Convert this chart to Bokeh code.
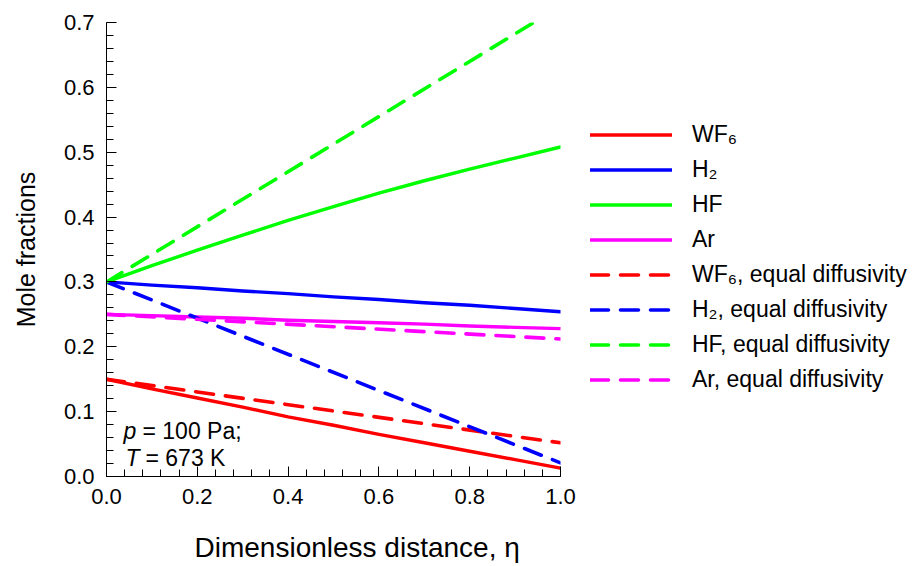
from bokeh.plotting import figure
from bokeh.models import (Range1d, FixedTicker, PrintfTickFormatter, Legend, LegendItem,
                          Label, Title)
from bokeh.embed import file_html
from bokeh.resources import INLINE

# ---- data ----
eta = [0.0, 0.1, 0.2, 0.3, 0.4, 0.5, 0.6, 0.7, 0.8, 0.9, 1.0]
wf6 = [0.150, 0.135, 0.121, 0.107, 0.092, 0.079, 0.065, 0.052, 0.039, 0.026, 0.013]
h2 = [0.300, 0.295, 0.291, 0.286, 0.282, 0.277, 0.273, 0.268, 0.264, 0.259, 0.254]
hf = [0.300, 0.325, 0.349, 0.372, 0.395, 0.416, 0.437, 0.456, 0.474, 0.491, 0.508]
ar = [0.250, 0.248, 0.246, 0.244, 0.241, 0.239, 0.237, 0.235, 0.232, 0.230, 0.228]

eta_eq = [0.0, 1.0]
wf6_eq = [0.150, 0.052]
h2_eq = [0.300, 0.021]
hf_eq = [0.300, 0.725]
ar_eq = [0.250, 0.212]

x_ticks = [0.0, 0.2, 0.4, 0.6, 0.8, 1.0]
x_minor = [round(i * 0.04, 2) for i in range(26)]
y_ticks = [0.0, 0.1, 0.2, 0.3, 0.4, 0.5, 0.6, 0.7]
y_minor = [round(i * 0.02, 2) for i in range(36)]

legend_labels = ["WF₆", "H₂", "HF", "Ar",
                 "WF₆, equal diffusivity", "H₂, equal diffusivity",
                 "HF, equal diffusivity", "Ar, equal diffusivity"]
colors = ["#FF0000", "#0000FF", "#00FF00", "#FF00FF"]

FONT = "Liberation Sans"
FS_TICK = "22px"
FS_TEXT = "23px"

W, H = 918, 566
LEFT, TOP, FW, FH = 106, 22, 454, 454

p = figure(width=W, height=H, output_backend="svg", toolbar_location=None,
           x_range=Range1d(0, 1), y_range=Range1d(0, 0.7),
           frame_width=FW, frame_height=FH,
           min_border_left=LEFT, min_border_top=TOP,
           min_border_right=W - LEFT - FW, min_border_bottom=H - TOP - FH)
p.outline_line_color = None
p.grid.visible = False
p.background_fill_color = "white"
p.border_fill_color = "white"

for ax in (p.xaxis[0], p.yaxis[0]):
    ax.major_tick_in = 10
    ax.major_tick_out = 0
    ax.minor_tick_in = 7
    ax.minor_tick_out = 0
    ax.axis_line_color = "black"
    ax.major_tick_line_color = "black"
    ax.minor_tick_line_color = "black"
    ax.major_label_text_font = FONT
    ax.major_label_text_font_size = FS_TICK
    ax.major_label_text_color = "black"
    ax.major_label_standoff = 12
    ax.formatter = PrintfTickFormatter(format="%.1f")

p.xaxis.ticker = FixedTicker(ticks=x_ticks, minor_ticks=x_minor)
p.yaxis.ticker = FixedTicker(ticks=y_ticks, minor_ticks=y_minor)

p.yaxis.axis_label = "Mole fractions"
p.yaxis.axis_label_text_font = FONT
p.yaxis.axis_label_text_font_size = "25px"
p.yaxis.axis_label_text_font_style = "normal"
p.yaxis.axis_label_text_color = "black"
p.yaxis.axis_label_standoff = 21

xtitle = Title(text="Dimensionless distance, η", align="left", offset=88, standoff=47,
               text_font=FONT, text_font_size="28px", text_font_style="normal",
               text_color="black")
p.add_layout(xtitle, "below")

SOLID_W = 3.4
DASH_W = 3.6
DASH = "18 12"

series = [wf6, h2, hf, ar]
eq_series = [wf6_eq, h2_eq, hf_eq, ar_eq]
renderers = []
for ys, c in zip(series, colors):
    r = p.line(eta, ys, line_color=c, line_width=SOLID_W, line_cap="round", line_join="round")
    renderers.append(r)
for ys, c in zip(eq_series, colors):
    r = p.line(eta_eq, ys, line_color=c, line_width=DASH_W, line_dash=DASH, line_cap="round")
    renderers.append(r)

items = [LegendItem(label=lab, renderers=[r]) for lab, r in zip(legend_labels, renderers)]
legend = Legend(items=items, location=(30, 83), orientation="vertical",
                glyph_width=82, glyph_height=25, label_height=25, spacing=8,
                label_standoff=20, padding=0, margin=0,
                border_line_color=None, background_fill_alpha=0,
                label_text_font=FONT, label_text_font_size=FS_TEXT, label_text_color="black")
p.add_layout(legend, "right")

# ---- annotation text inside the frame ----
px_per_y = FH / 0.7
px_per_x = FW / 1.0

def dx(px):
    return px / px_per_x

def dy(px):
    return px / px_per_y

ann = dict(text_font=FONT, text_font_size=FS_TEXT, text_color="black", text_baseline="alphabetic")
p.add_layout(Label(x=dx(17), y=dy(46), text="p", text_font_style="italic", **ann))
p.add_layout(Label(x=dx(17), y=dy(46), x_offset=19, text="= 100 Pa;", **ann))
p.add_layout(Label(x=dx(19), y=dy(19), text="T", text_font_style="italic", **ann))
p.add_layout(Label(x=dx(19), y=dy(19), x_offset=20, text="= 673 K", **ann))

open("out.html", "w").write(file_html(p, INLINE))
